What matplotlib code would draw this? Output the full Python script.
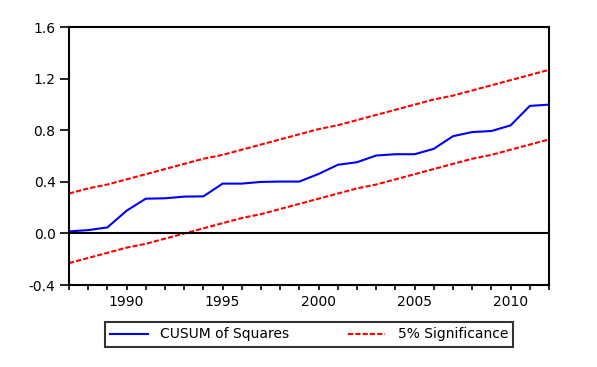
import matplotlib
matplotlib.use("Agg")
import matplotlib.pyplot as plt
from matplotlib.ticker import MultipleLocator

# CUSUM of squares data
years = list(range(1987, 2013))
cusum_sq = [0.016, 0.026, 0.047, 0.177, 0.270, 0.273, 0.286, 0.288, 0.387, 0.387,
            0.400, 0.403, 0.403, 0.462, 0.533, 0.553, 0.605, 0.615, 0.615, 0.657,
            0.755, 0.787, 0.795, 0.839, 0.990, 1.000]
upper = [0.31, 0.35, 0.38, 0.42, 0.46, 0.50, 0.54, 0.58, 0.61, 0.65, 0.69, 0.73, 0.77,
         0.81, 0.84, 0.88, 0.92, 0.96, 1.00, 1.04, 1.07, 1.11, 1.15, 1.19, 1.23, 1.27]
lower = [-0.23, -0.19, -0.15, -0.11, -0.08, -0.04, 0.00, 0.04, 0.08, 0.12, 0.15, 0.19, 0.23,
         0.27, 0.31, 0.35, 0.38, 0.42, 0.46, 0.50, 0.54, 0.58, 0.61, 0.65, 0.69, 0.73]

plt.rcParams["font.family"] = ["DejaVu Sans"]

fig = plt.figure(figsize=(5.97, 3.67), dpi=100)
ax = fig.add_axes([0.1156, 0.2234, 0.804, 0.7022])

ax.plot(years, cusum_sq, color="#0000ff", lw=1.5, label="CUSUM of Squares")
ax.plot(years, upper, color="#ff0000", lw=1.5, ls=(0, (2.5, 1)), label="5% Significance")
ax.plot(years, lower, color="#ff0000", lw=1.5, ls=(0, (2.5, 1)))
ax.axhline(0, color="black", lw=1.5)

ax.set_xlim(1987, 2012)
ax.set_ylim(-0.4, 1.6)
ax.yaxis.set_major_locator(MultipleLocator(0.4))
ax.yaxis.set_major_formatter(plt.FuncFormatter(lambda v, p: f"{v:.1f}"))
ax.xaxis.set_major_locator(MultipleLocator(5))
ax.xaxis.set_minor_locator(MultipleLocator(1))

for s in ax.spines.values():
    s.set_linewidth(1.5)
ax.tick_params(axis="both", which="both", direction="out", width=1.2,
               labelsize=10, colors="black")
ax.tick_params(axis="x", which="both", length=3.6, pad=3.6)
ax.tick_params(axis="y", length=6.5, pad=3.2)

leg = ax.legend(loc="upper center", bbox_to_anchor=(0.5, -0.143), borderaxespad=0,
                ncol=2, frameon=True, fancybox=False, fontsize=10, handlelength=2.7,
                columnspacing=4.2, borderpad=0.4, handletextpad=0.9)
leg.get_frame().set_edgecolor("black")
leg.get_frame().set_linewidth(1.5)

plt.savefig("out.png", dpi=100)
plt.close()
